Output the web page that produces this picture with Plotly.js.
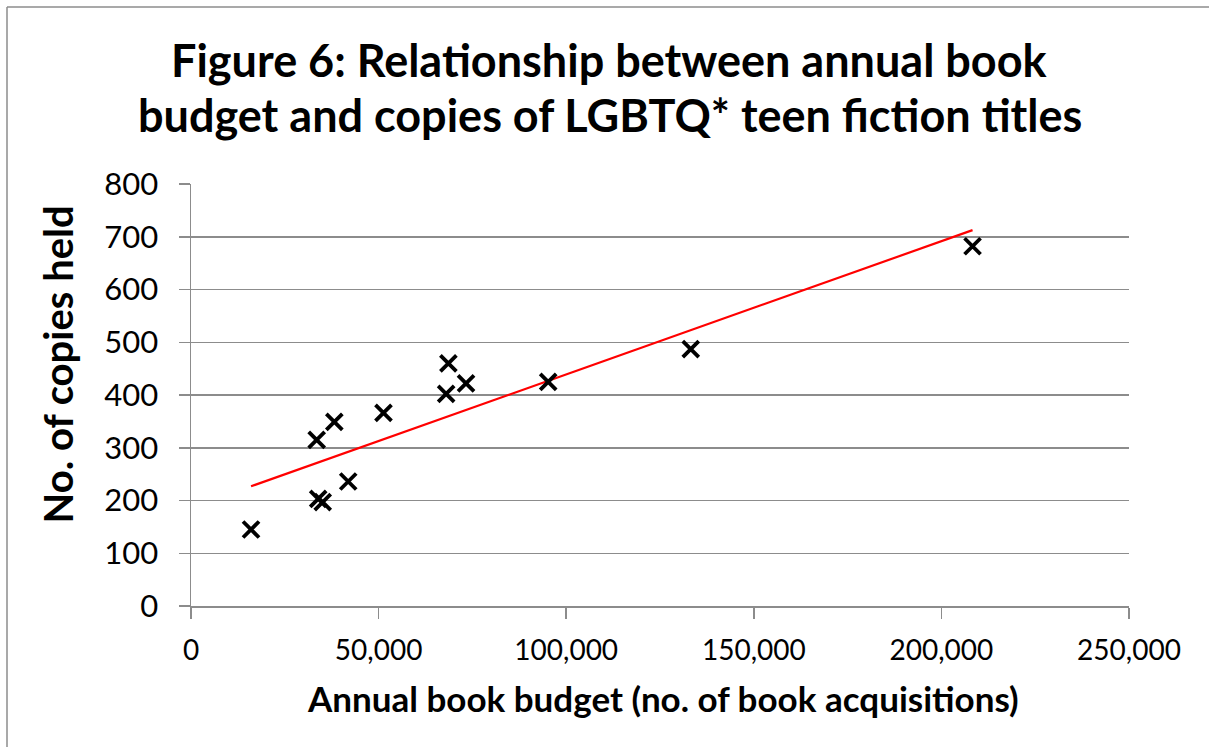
<!DOCTYPE html>
<html>
<head>
<meta charset="utf-8">
<script src="https://cdn.plot.ly/plotly-3.0.1.min.js"></script>
<style>
  html, body { margin: 0; padding: 0; background: #ffffff; }
  #chart { width: 1209px; height: 747px; }
</style>
</head>
<body>
<div id="chart"></div>
<script>
// Annual book budget (no. of book acquisitions) per library
const budget = [16000, 33500, 38200, 33900, 35100, 41900, 51300, 68600, 68000, 73300, 95200, 133200, 208300];
// No. of copies of LGBTQ* teen fiction titles held
const copies = [145, 315, 349, 203, 197, 236, 366, 460, 402, 422, 425, 487, 682];

const xTickVals = [0, 50000, 100000, 150000, 200000, 250000];
const xTickText = ['0', '50,000', '100,000', '150,000', '200,000', '250,000'];
const yTickVals = [0, 100, 200, 300, 400, 500, 600, 700, 800];

const titleLine1 = 'Figure 6: Relationship between annual book';
const titleLine2 = 'budget and copies of LGBTQ* teen fiction titles';
const xTitle = 'Annual book budget (no. of book acquisitions)';
const yTitle = 'No. of copies held';

// Linear trendline (least squares), as in the spreadsheet chart
const n = budget.length;
const mx = budget.reduce((a, b) => a + b, 0) / n;
const my = copies.reduce((a, b) => a + b, 0) / n;
let sxy = 0, sxx = 0;
for (let i = 0; i < n; i++) {
  sxy += (budget[i] - mx) * (copies[i] - my);
  sxx += (budget[i] - mx) * (budget[i] - mx);
}
const slope = sxy / sxx;
const intercept = my - slope * mx;
const xMin = Math.min(...budget), xMax = Math.max(...budget);
const trendX = [xMin, xMax];
const trendY = trendX.map(v => intercept + slope * v);

const FONT = 'Lato, "Open Sans", sans-serif';

const traces = [
  {
    type: 'scatter', mode: 'lines', x: trendX, y: trendY,
    line: { color: '#ff0000', width: 2.2 }, hoverinfo: 'skip', showlegend: false
  },
  {
    type: 'scatter', mode: 'markers', x: budget, y: copies,
    marker: { symbol: 'x-thin-open', size: 16, color: '#000000', line: { color: '#000000', width: 3.8 } },
    showlegend: false
  }
];

const layout = {
  width: 1209, height: 747,
  margin: { l: 191, r: 80, t: 184, b: 141, pad: 0 },
  paper_bgcolor: '#ffffff', plot_bgcolor: '#ffffff',
  font: { family: FONT, color: '#000000' },
  showlegend: false,
  xaxis: {
    range: [0, 250000], tickvals: xTickVals, ticktext: xTickText,
    showgrid: false, zeroline: false,
    showline: true, linecolor: '#8c8c8c', linewidth: 1.5,
    ticks: 'outside', ticklen: 11, tickwidth: 1.5, tickcolor: '#8c8c8c',
    tickfont: { family: FONT, size: 28, color: '#000000' },
    ticklabelstandoff: 8,
    fixedrange: true
  },
  yaxis: {
    range: [0, 800], tickvals: yTickVals,
    showgrid: true, gridcolor: '#8c8c8c', gridwidth: 1.5,
    zeroline: false,
    showline: true, linecolor: '#8c8c8c', linewidth: 1.5,
    ticks: 'outside', ticklen: 11, tickwidth: 1.5, tickcolor: '#8c8c8c',
    tickfont: { family: FONT, size: 31, color: '#000000' },
    ticklabelstandoff: 14,
    fixedrange: true
  },
  annotations: [
    { text: titleLine1, xref: 'paper', yref: 'paper', x: 0.4462, y: 1.294,
      xanchor: 'center', yanchor: 'middle', showarrow: false,
      font: { family: FONT, size: 45, color: '#000000', weight: 'bold' } },
    { text: titleLine2, xref: 'paper', yref: 'paper', x: 0.4462, y: 1.164,
      xanchor: 'center', yanchor: 'middle', showarrow: false,
      font: { family: FONT, size: 45, color: '#000000', weight: 'bold' } },
    { text: xTitle, xref: 'paper', yref: 'paper', x: 0.5027, y: -0.218,
      xanchor: 'center', yanchor: 'middle', showarrow: false,
      font: { family: FONT, size: 35, color: '#000000', weight: 'bold' } },
    { text: yTitle, xref: 'paper', yref: 'paper', x: -0.1418, y: 0.5723,
      xanchor: 'center', yanchor: 'middle', showarrow: false, textangle: -90,
      font: { family: FONT, size: 40, color: '#000000', weight: 'bold' } }
  ],
  shapes: [
    { type: 'line', xref: 'paper', yref: 'paper', x0: -0.19616, x1: 1.10, y0: 1.41943, y1: 1.41943,
      line: { color: '#8c8c8c', width: 1.5 } },
    { type: 'line', xref: 'paper', yref: 'paper', x0: -0.19616, x1: -0.19616, y0: 1.41943, y1: -0.36,
      line: { color: '#8c8c8c', width: 1.5 } }
  ]
};

Plotly.newPlot('chart', traces, layout, { displayModeBar: false, staticPlot: true });
</script>
</body>
</html>
